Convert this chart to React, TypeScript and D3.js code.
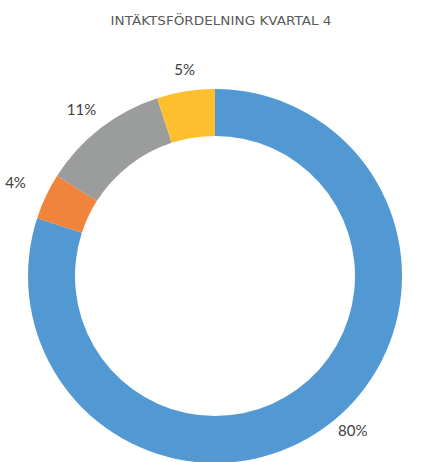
import React, { useEffect, useRef } from "react";
import * as d3 from "d3";

const title = "INTÄKTSFÖRDELNING KVARTAL 4";
const categories = ["Segment 1", "Segment 2", "Segment 3", "Segment 4"];
const values = [80, 4, 11, 5];
const colors = ["#5299D3", "#F0843C", "#9B9D9D", "#FDBF2D"];

const App = () => {
  const ref = useRef<SVGSVGElement | null>(null);

  useEffect(() => {
    const width = 427,
      height = 462;
    const cx = 215,
      cy = 276,
      outerR = 187,
      innerR = 140;
    // label ring (Excel "outside end" lands roughly on an offset ellipse)
    const labelRx = 226,
      labelRy = 201,
      labelDx = 5,
      labelDy = -8.5;

    const svg = d3.select(ref.current);
    svg.selectAll("*").remove();
    svg.attr("width", width).attr("height", height);

    svg
      .append("rect")
      .attr("width", width)
      .attr("height", height)
      .attr("fill", "#ffffff");

    svg
      .append("text")
      .attr("x", 221)
      .attr("y", 25)
      .attr("text-anchor", "middle")
      .attr("font-family", "'DejaVu Sans', sans-serif")
      .attr("font-size", 11.5)
      .attr("textLength", 221)
      .attr("lengthAdjust", "spacingAndGlyphs")
      .attr("fill", "#595959")
      .text(title);

    const data = categories.map((c, i) => ({ name: c, value: values[i], color: colors[i] }));

    const pie = d3
      .pie<any>()
      .sort(null)
      .value((d) => d.value);

    const arc = d3.arc<any>().innerRadius(innerR).outerRadius(outerR);

    const g = svg.append("g").attr("transform", `translate(${cx}, ${cy})`);
    const arcs = pie(data);

    g.selectAll("path")
      .data(arcs)
      .join("path")
      .attr("d", arc)
      .attr("fill", (d) => d.data.color);

    g.selectAll("text")
      .data(arcs)
      .join("text")
      .attr("transform", (d) => {
        const a = (d.startAngle + d.endAngle) / 2;
        const x = labelDx + Math.sin(a) * labelRx;
        const y = labelDy - Math.cos(a) * labelRy;
        return `translate(${x}, ${y})`;
      })
      .attr("text-anchor", "middle")
      .attr("dominant-baseline", "central")
      .attr("font-family", "Lato, 'Open Sans', sans-serif")
      .attr("font-size", 15)
      .attr("fill", "#404040")
      .text((d) => `${d.data.value}%`);
  }, []);

  return (
    <svg
      ref={ref}
      style={{ position: "absolute", left: 0, top: 0, display: "block" }}
    />
  );
};

export default App;
